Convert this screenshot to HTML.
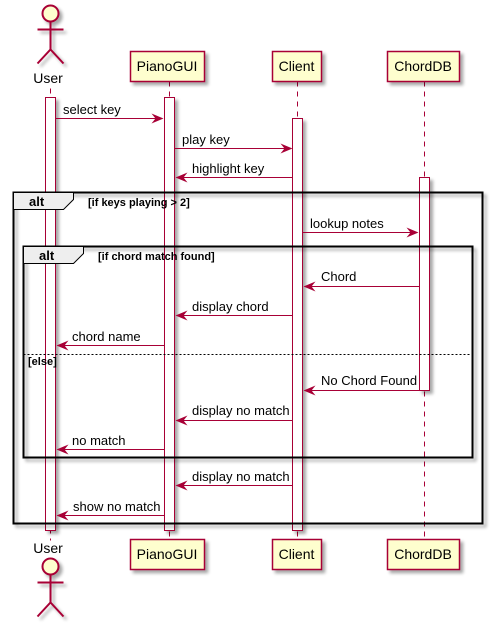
<!DOCTYPE html>
<html><head><meta charset="utf-8"><style>
html,body{margin:0;padding:0;background:#fff;}
svg{display:block;}
text{font-family:"Liberation Sans",sans-serif;}
</style></head><body>
<svg width="492" height="627" viewBox="0 0 492 627" xmlns="http://www.w3.org/2000/svg">
<defs>
<filter id="sh" x="-20%" y="-20%" width="150%" height="150%"><feGaussianBlur in="SourceAlpha" stdDeviation="1.5"/><feOffset dx="3" dy="3"/><feComponentTransfer><feFuncA type="linear" slope="0.35"/></feComponentTransfer><feMerge><feMergeNode/><feMergeNode in="SourceGraphic"/></feMerge></filter>
</defs>
<g transform="translate(0.5,0.5)">
<g stroke="#A80036" stroke-width="1" stroke-dasharray="5,5">
<line x1="50" y1="88" x2="50" y2="540"/>
<line x1="169" y1="81" x2="169" y2="539"/>
<line x1="297" y1="81" x2="297" y2="539"/>
<line x1="424" y1="81" x2="424" y2="539"/>
</g>
<g fill="#fff" stroke="#A80036" filter="url(#sh)">
<rect x="45" y="97" width="10" height="433"/>
<rect x="164" y="97" width="10" height="433"/>
<rect x="292" y="118" width="10" height="412"/>
<rect x="419" y="177" width="10" height="213"/>
</g>
<g stroke="#A80036" stroke-width="2" fill="none" filter="url(#sh)">
<circle cx="50" cy="13" r="8" fill="#FEFECE"/>
<path d="M50 21V49M37 29H63M37 63L50 49L63 63"/>
<circle cx="50" cy="566" r="8" fill="#FEFECE"/>
<path d="M50 574V602M37 582H63M37 616L50 602L63 616"/>
</g>
<g fill="#FEFECE" stroke="#A80036" stroke-width="1.5" filter="url(#sh)">
<rect x="130" y="51" width="74" height="30"/>
<rect x="272" y="51" width="49" height="30"/>
<rect x="387" y="51" width="72" height="30"/>
<rect x="130" y="539" width="74" height="30"/>
<rect x="272" y="539" width="49" height="30"/>
<rect x="387" y="539" width="72" height="30"/>
</g>
<g fill="none" stroke="#000" stroke-width="2" filter="url(#sh)">
<rect x="13" y="192" width="469" height="331"/>
<rect x="23" y="246" width="449" height="211"/>
</g>
<g stroke="#000" stroke-width="1" fill="#EEEEEE">
<path d="M13 192H73V199L63 209H13Z"/>
<path d="M23 246H83V253L73 263H23Z"/>
</g>
<line x1="23" y1="354" x2="472" y2="354" stroke="#000" stroke-dasharray="2,2"/>
<g stroke="#A80036" stroke-width="1" fill="none">
<line x1="55" y1="118" x2="162" y2="118"/>
<line x1="174" y1="148" x2="291" y2="148"/>
<line x1="292" y1="177" x2="176" y2="177"/>
<line x1="302" y1="232" x2="417" y2="232"/>
<line x1="419" y1="286" x2="304" y2="286"/>
<line x1="292" y1="315" x2="176" y2="315"/>
<line x1="164" y1="345" x2="57" y2="345"/>
<line x1="419" y1="390" x2="304" y2="390"/>
<line x1="292" y1="420" x2="176" y2="420"/>
<line x1="164" y1="449" x2="57" y2="449"/>
<line x1="292" y1="485" x2="176" y2="485"/>
<line x1="164" y1="515" x2="57" y2="515"/>
</g>
<g fill="#A80036">
<path d="M163 118L151 113L155 118L151 123Z"/>
<path d="M292 148L280 143L284 148L280 153Z"/>
<path d="M175 177L187 172L183 177L187 182Z"/>
<path d="M418 232L406 227L410 232L406 237Z"/>
<path d="M303 286L315 281L311 286L315 291Z"/>
<path d="M175 315L187 310L183 315L187 320Z"/>
<path d="M56 345L68 340L64 345L68 350Z"/>
<path d="M303 390L315 385L311 390L315 395Z"/>
<path d="M175 420L187 415L183 420L187 425Z"/>
<path d="M56 449L68 444L64 449L68 454Z"/>
<path d="M175 485L187 480L183 485L187 490Z"/>
<path d="M56 515L68 510L64 515L68 520Z"/>
</g>
</g>
<g font-size="14" fill="#000" text-anchor="middle">
<text x="48" y="83">User</text>
<text x="48" y="553">User</text>
<text x="167" y="71">PianoGUI</text>
<text x="296.5" y="71">Client</text>
<text x="423" y="71">ChordDB</text>
<text x="167" y="559">PianoGUI</text>
<text x="296.5" y="559">Client</text>
<text x="423" y="559">ChordDB</text>
</g>
<g font-size="11" font-weight="bold" fill="#000">
<text x="29" y="206" font-size="13">alt</text>
<text x="88" y="206">[if keys playing &gt; 2]</text>
<text x="39" y="260" font-size="13">alt</text>
<text x="98" y="260">[if chord match found]</text>
<text x="28" y="365">[else]</text>
</g>
<g font-size="13" fill="#000">
<text x="63" y="114">select key</text>
<text x="182" y="144">play key</text>
<text x="192" y="173">highlight key</text>
<text x="310" y="228">lookup notes</text>
<text x="321" y="281">Chord</text>
<text x="192" y="311">display chord</text>
<text x="72" y="341">chord name</text>
<text x="321" y="385">No Chord Found</text>
<text x="192" y="415">display no match</text>
<text x="72" y="445">no match</text>
<text x="192" y="481">display no match</text>
<text x="73" y="511">show no match</text>
</g>
</svg>
</body></html>
